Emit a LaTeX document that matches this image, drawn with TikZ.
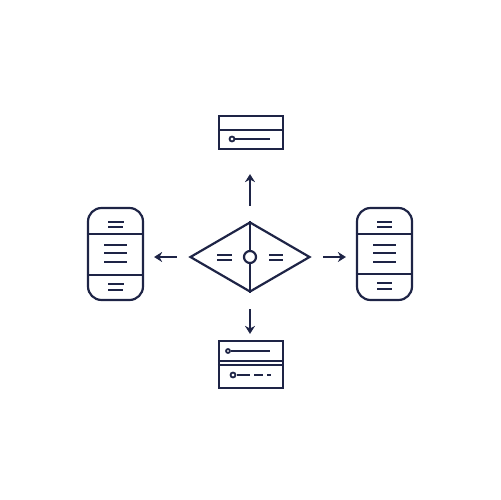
\documentclass[tikz,border=0pt]{standalone}
\usetikzlibrary{shapes.geometric,arrows.meta}
\definecolor{navy}{RGB}{30,36,70}

\begin{document}
\begin{tikzpicture}[x=0.02cm, y=-0.02cm,
                    line width=1.25pt, draw=navy, color=navy,
                    panelnode/.style={rectangle, draw=navy, line width=1.25pt, inner sep=0pt, minimum width=12.8mm},
                    phonenode/.style={rectangle, rounded corners=2.7mm, draw=navy, line width=1.25pt, inner sep=0pt, minimum width=11mm, minimum height=18.4mm},
                    hubnode/.style={diamond, draw=navy, line width=1.25pt, inner sep=0pt, minimum width=24mm, minimum height=14mm},
                    textline/.style={line width=1pt},
                    flow/.style={-{Stealth[length=1.6mm,width=2mm,inset=0.5mm]}, line width=1.25pt}
                ]
    \useasboundingbox (0,0) rectangle (500,500);
    \node[hubnode] (hub) at (250,257) {};
    \node[panelnode, minimum height=6.6mm] (topbox) at (251,132.5) {};
    \node[panelnode, minimum height=9.4mm] (botbox) at (251,364.5) {};
    \node[phonenode] (leftphone) at (115.5,254) {};
    \node[phonenode] (rightphone) at (384.5,254) {};

    % hub
    \draw (hub.north) -- (hub.south);
    \node[circle, draw=navy, fill=white, line width=1.25pt, minimum size=2.4mm, inner sep=0pt] (knob) at (hub) {};
    \draw[textline] (217,255) -- (232,255) (217,260) -- (232,260);
    \draw[textline] (269,255) -- (283,255) (269,260) -- (283,260);

    % top panel
    \draw (topbox.west |- 0,130) -- (topbox.east |- 0,130);
    \draw[textline] (232,139) circle (2.5);
    \draw[textline] (235,139) -- (270,139);

    % bottom panel
    \draw (botbox.west |- 0,361) -- (botbox.east |- 0,361);
    \draw (botbox.west |- 0,365) -- (botbox.east |- 0,365);
    \draw[textline] (228,351) circle (2);
    \draw[textline] (231,351) -- (270,351);
    \draw[textline] (233,375) circle (2.5);
    \draw[textline] (237,375) -- (250,375) (254,375) -- (263,375) (267,375) -- (271,375);

    % left phone
    \draw (leftphone.west |- 0,234) -- (leftphone.east |- 0,234);
    \draw (leftphone.west |- 0,275) -- (leftphone.east |- 0,275);
    \draw[textline] (108,222) -- (124,222) (108,227) -- (123,227);
    \draw[textline] (104,245) -- (127,245) (104,253) -- (127,253) (104,262) -- (127,262);
    \draw[textline] (108,284) -- (124,284) (108,290) -- (123,290);

    % right phone
    \draw (rightphone.west |- 0,234) -- (rightphone.east |- 0,234);
    \draw (rightphone.west |- 0,274) -- (rightphone.east |- 0,274);
    \draw[textline] (377,222) -- (392,222) (377,227) -- (392,227);
    \draw[textline] (373,245) -- (396,245) (373,253) -- (396,253) (373,262) -- (396,262);
    \draw[textline] (377,283) -- (392,283) (377,289) -- (392,289);

    % arrows
    \draw[flow, shorten <=3mm, shorten >=4.8mm] (hub.north) -- (topbox.south -| hub.north);
    \draw[flow, shorten <=3.2mm, shorten >=1.2mm] (hub.south) -- (botbox.north -| hub.south);
    \draw[flow, shorten <=2.4mm, shorten >=2mm] (hub.west) -- (leftphone.east |- hub.west);
    \draw[flow, shorten <=2.4mm, shorten >=2mm] (hub.east) -- (rightphone.west |- hub.east);
\end{tikzpicture}
\end{document}
